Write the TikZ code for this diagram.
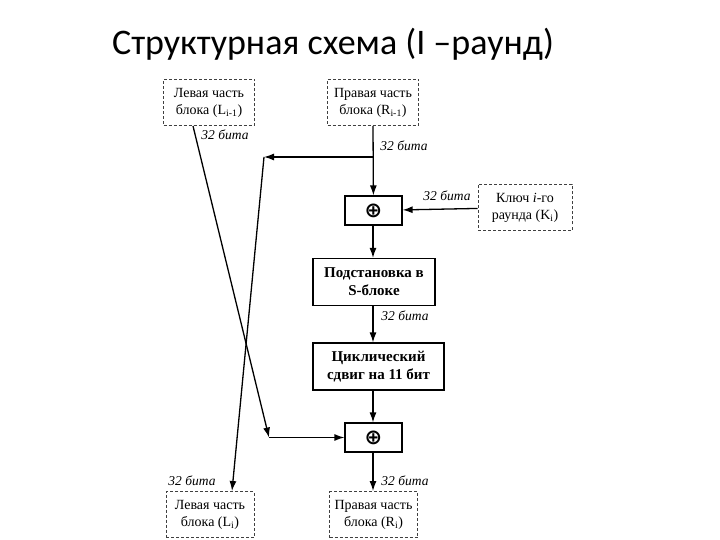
\documentclass[tikz,border=0pt]{standalone}
\usepackage{fontspec}
\setmainfont{Liberation Serif}
\newfontfamily\titlefont{Carlito}
\newfontfamily\symfont{DejaVu Sans}
\usetikzlibrary{arrows.meta}
\usetikzlibrary{positioning}

\begin{document}
\begin{tikzpicture}[
  x=1pt, y=-1pt,
  halfblock/.style={rectangle, draw=black!75, line width=1pt,
    dash pattern=on 3pt off 2pt, inner sep=0pt,
    minimum width=91pt, minimum height=46pt,
    align=center, font=\fontsize{14}{17}\selectfont},
  process/.style={rectangle, draw, line width=1.2pt, inner sep=0pt,
    minimum height=47pt, align=center,
    font=\fontsize{15}{18}\selectfont\bfseries},
  xorbox/.style={rectangle, draw, line width=1.2pt, inner sep=0pt,
    minimum width=57pt, minimum height=29pt,
    font=\symfont\bfseries\fontsize{21}{21}\selectfont},
  arrow/.style={-{Latex[length=10pt, width=7pt]}, line width=1.3pt},
  bits/.style={font=\fontsize{13.5}{15}\selectfont\itshape},
]
\useasboundingbox (0,0) rectangle (720,540);

% === Title ===
\node[font=\titlefont\fontsize{36}{40}\selectfont] (title) at (333,44) {Структурная схема (I –раунд)};

% === Input halves and round key ===
\node[halfblock] (topL) at (209,102.5) {Левая часть\\блока (L\textsubscript{i-1})};
\node[halfblock] (topR) at (373,102.5) {Правая часть\\блока (R\textsubscript{i-1})};
\node[halfblock, minimum width=94pt] (key) at (525,207.5) {Ключ \textit{i}-го\\раунда (K\textsubscript{i})};

% === Round function ===
\node[xorbox] (xor1) at (373.5,210.5) {⊕};
\node[process, minimum width=122pt] (sbox) at (374,282) {Подстановка в\\S-блоке};
\node[process, minimum width=131pt] (shift) at (378.5,366.5) {Циклический\\сдвиг на 11 бит};
\node[xorbox] (xor2) at (373.5,437.5) {⊕};

% === Output halves ===
\node[halfblock, minimum width=88pt] (botL) at (210,514.5) {Левая часть\\блока (L\textsubscript{i})};
\node[halfblock, minimum width=88pt] (botR) at (373.5,514.5) {Правая часть\\блока (R\textsubscript{i})};

% === Crossing points ===
\coordinate (split) at (373,157);
\coordinate (crossR) at (264,157);
\coordinate (crossL) at (269,437.5);
\coordinate (outL) at (232,491);

% === Connectors ===
\draw[arrow] (topR.south -| split) -- (xor1);
\draw[arrow] (split) -- (crossR);
\draw[arrow] (crossR) -- (outL);
\draw[arrow] (topL.south -| 193,0) -- (crossL);
\draw[arrow] (crossL) -- (xor2);
\draw[arrow] (key) -- (xor1);
\draw[arrow] (xor1.south -| split) -- (sbox.north -| split);
\draw[arrow] (sbox.south -| split) -- (shift.north -| split);
\draw[arrow] (shift.south -| split) -- (xor2.north -| split);
\draw[arrow] (xor2.south -| split) -- (botR.north -| split);

% === Bit widths ===
\node[bits] (b1) at (225,135) {32 бита};
\node[bits] (b2) at (404,146) {32 бита};
\node[bits] (b3) at (447,196) {32 бита};
\node[bits] (b4) at (405,316) {32 бита};
\node[bits] (b5) at (192,481) {32 бита};
\node[bits] (b6) at (405,481) {32 бита};
\end{tikzpicture}
\end{document}
